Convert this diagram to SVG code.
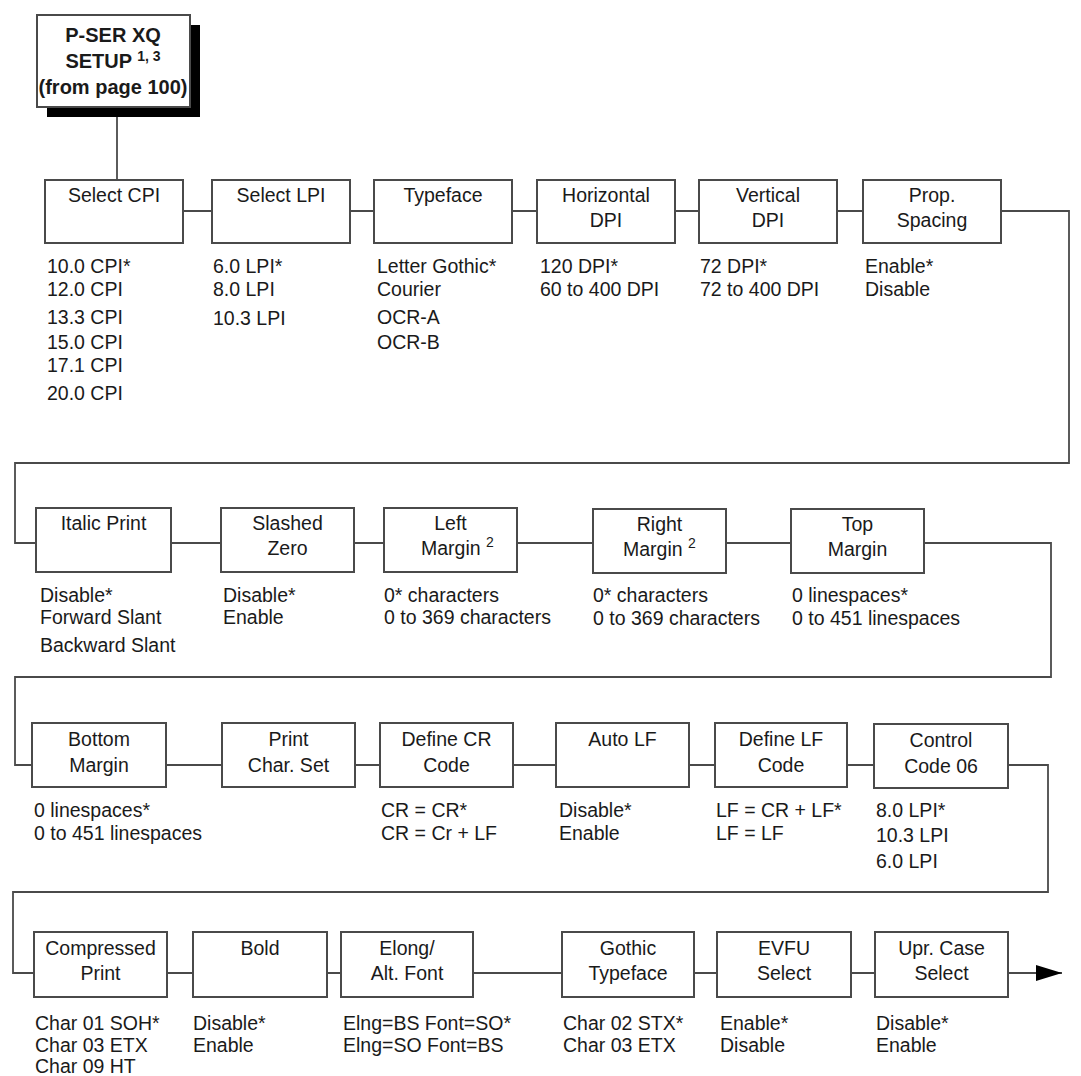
<svg xmlns="http://www.w3.org/2000/svg" width="1081" height="1076" viewBox="0 0 1081 1076">
<style>
  .box { fill: #ffffff; stroke: #4a4a4a; stroke-width: 2; }
  .shadow { fill: #000000; }
  .conn { fill: none; stroke: #4a4a4a; stroke-width: 1.8; }
  text { font-family: "Liberation Sans", Arial, sans-serif; font-size: 19.5px; fill: #1a1a1a; }
  .t { text-anchor: middle; }
  .hd { font-weight: bold; font-size: 20px; text-anchor: middle; }
  .sup { font-size: 14px; }
</style>
<defs>
  <marker id="arrow" viewBox="0 0 26 16" refX="26" refY="8" markerWidth="26" markerHeight="16" markerUnits="userSpaceOnUse" orient="auto">
    <path d="M0 0 L26 8 L0 16 Z" fill="#000000"/>
  </marker>
</defs>
<rect width="1081" height="1076" fill="#ffffff"/>

<g id="connectors">
  <path class="conn" d="M117 117 V180"/>
  <path class="conn" d="M183 211 H212 M350 211 H374 M512 211 H537 M675 211 H699 M837 211 H863"/>
  <path class="conn" d="M1001 211 H1069 V463 H15 V543 H36"/>
  <path class="conn" d="M171 543 H221 M354 543 H384 M517 543 H593 M726 543 H791"/>
  <path class="conn" d="M924 543 H1051 V677 H15 V765 H32"/>
  <path class="conn" d="M166 765 H222 M355 765 H380 M513 765 H556 M689 765 H715 M847 765 H874"/>
  <path class="conn" d="M1008 765 H1048 V892 H13 V973 H34"/>
  <path class="conn" d="M167 973 H193 M327 973 H341 M473 973 H562 M694 973 H717 M851 973 H875"/>
  <path class="conn" d="M1008 973 H1062" marker-end="url(#arrow)"/>
</g>

<g id="header">
  <rect class="shadow" x="47" y="25" width="153" height="92"/>
  <rect class="box" x="37" y="15" width="153" height="92"/>
  <text class="hd" x="113" y="42">P-SER XQ</text>
  <text class="hd" x="113" y="68">SETUP <tspan class="sup" dy="-7">1, 3</tspan></text>
  <text class="hd" x="113" y="94">(from page 100)</text>
</g>

<!-- Row 1 -->
<g id="select-cpi">
  <rect class="box" x="45" y="180" width="138" height="63"/>
  <text class="t" x="114" y="202">Select CPI</text>
  <text x="47" y="273">10.0 CPI*</text>
  <text x="47" y="296">12.0 CPI</text>
  <text x="47" y="324">13.3 CPI</text>
  <text x="47" y="349">15.0 CPI</text>
  <text x="47" y="372">17.1 CPI</text>
  <text x="47" y="400">20.0 CPI</text>
</g>
<g id="select-lpi">
  <rect class="box" x="212" y="180" width="138" height="63"/>
  <text class="t" x="281" y="202">Select LPI</text>
  <text x="213" y="273">6.0 LPI*</text>
  <text x="213" y="296">8.0 LPI</text>
  <text x="213" y="325">10.3 LPI</text>
</g>
<g id="typeface">
  <rect class="box" x="374" y="180" width="138" height="63"/>
  <text class="t" x="443" y="202">Typeface</text>
  <text x="377" y="273">Letter Gothic*</text>
  <text x="377" y="296">Courier</text>
  <text x="377" y="324">OCR-A</text>
  <text x="377" y="349">OCR-B</text>
</g>
<g id="horizontal-dpi">
  <rect class="box" x="537" y="180" width="138" height="63"/>
  <text class="t" x="606" y="202">Horizontal</text>
  <text class="t" x="606" y="227">DPI</text>
  <text x="540" y="273">120 DPI*</text>
  <text x="540" y="296">60 to 400 DPI</text>
</g>
<g id="vertical-dpi">
  <rect class="box" x="699" y="180" width="138" height="63"/>
  <text class="t" x="768" y="202">Vertical</text>
  <text class="t" x="768" y="227">DPI</text>
  <text x="700" y="273">72 DPI*</text>
  <text x="700" y="296">72 to 400 DPI</text>
</g>
<g id="prop-spacing">
  <rect class="box" x="863" y="180" width="138" height="63"/>
  <text class="t" x="932" y="202">Prop.</text>
  <text class="t" x="932" y="227">Spacing</text>
  <text x="865" y="273">Enable*</text>
  <text x="865" y="296">Disable</text>
</g>

<!-- Row 2 -->
<g id="italic-print">
  <rect class="box" x="36" y="508" width="135" height="64"/>
  <text class="t" x="103.5" y="530">Italic Print</text>
  <text x="40" y="602">Disable*</text>
  <text x="40" y="624">Forward Slant</text>
  <text x="40" y="652">Backward Slant</text>
</g>
<g id="slashed-zero">
  <rect class="box" x="221" y="508" width="133" height="64"/>
  <text class="t" x="287.5" y="530">Slashed</text>
  <text class="t" x="287.5" y="555">Zero</text>
  <text x="223" y="602">Disable*</text>
  <text x="223" y="624">Enable</text>
</g>
<g id="left-margin">
  <rect class="box" x="384" y="508" width="133" height="64"/>
  <text class="t" x="450.5" y="530">Left</text>
  <text x="421" y="555">Margin <tspan class="sup" dy="-8">2</tspan></text>
  <text x="384" y="602">0* characters</text>
  <text x="384" y="624">0 to 369 characters</text>
</g>
<g id="right-margin">
  <rect class="box" x="593" y="509" width="133" height="64"/>
  <text class="t" x="659.5" y="531">Right</text>
  <text x="623" y="556">Margin <tspan class="sup" dy="-8">2</tspan></text>
  <text x="593" y="602">0* characters</text>
  <text x="593" y="625">0 to 369 characters</text>
</g>
<g id="top-margin">
  <rect class="box" x="791" y="509" width="133" height="64"/>
  <text class="t" x="857.5" y="531">Top</text>
  <text class="t" x="857.5" y="556">Margin</text>
  <text x="792" y="602">0 linespaces*</text>
  <text x="792" y="625">0 to 451 linespaces</text>
</g>

<!-- Row 3 -->
<g id="bottom-margin">
  <rect class="box" x="32" y="723" width="134" height="64"/>
  <text class="t" x="99" y="746">Bottom</text>
  <text class="t" x="99" y="772">Margin</text>
  <text x="34" y="817">0 linespaces*</text>
  <text x="34" y="840">0 to 451 linespaces</text>
</g>
<g id="print-char-set">
  <rect class="box" x="222" y="723" width="133" height="64"/>
  <text class="t" x="288.5" y="746">Print</text>
  <text class="t" x="288.5" y="772">Char. Set</text>
</g>
<g id="define-cr-code">
  <rect class="box" x="380" y="723" width="133" height="64"/>
  <text class="t" x="446.5" y="746">Define CR</text>
  <text class="t" x="446.5" y="772">Code</text>
  <text x="381" y="817">CR = CR*</text>
  <text x="381" y="840">CR = Cr + LF</text>
</g>
<g id="auto-lf">
  <rect class="box" x="556" y="723" width="133" height="64"/>
  <text class="t" x="622.5" y="746">Auto LF</text>
  <text x="559" y="817">Disable*</text>
  <text x="559" y="840">Enable</text>
</g>
<g id="define-lf-code">
  <rect class="box" x="715" y="723" width="132" height="64"/>
  <text class="t" x="781" y="746">Define LF</text>
  <text class="t" x="781" y="772">Code</text>
  <text x="716" y="817">LF = CR + LF*</text>
  <text x="716" y="840">LF = LF</text>
</g>
<g id="control-code-06">
  <rect class="box" x="874" y="724" width="134" height="64"/>
  <text class="t" x="941" y="747">Control</text>
  <text class="t" x="941" y="773">Code 06</text>
  <text x="876" y="817">8.0 LPI*</text>
  <text x="876" y="842">10.3 LPI</text>
  <text x="876" y="868">6.0 LPI</text>
</g>

<!-- Row 4 -->
<g id="compressed-print">
  <rect class="box" x="34" y="932" width="133" height="65"/>
  <text class="t" x="100.5" y="955">Compressed</text>
  <text class="t" x="100.5" y="980">Print</text>
  <text x="35" y="1030">Char 01 SOH*</text>
  <text x="35" y="1052">Char 03 ETX</text>
  <text x="35" y="1073">Char 09 HT</text>
</g>
<g id="bold">
  <rect class="box" x="193" y="932" width="134" height="65"/>
  <text class="t" x="260" y="955">Bold</text>
  <text x="193" y="1030">Disable*</text>
  <text x="193" y="1052">Enable</text>
</g>
<g id="elong-alt-font">
  <rect class="box" x="341" y="932" width="132" height="65"/>
  <text class="t" x="407" y="955">Elong/</text>
  <text class="t" x="407" y="980">Alt. Font</text>
  <text x="343" y="1030">Elng=BS Font=SO*</text>
  <text x="343" y="1052">Elng=SO Font=BS</text>
</g>
<g id="gothic-typeface">
  <rect class="box" x="562" y="932" width="132" height="65"/>
  <text class="t" x="628" y="955">Gothic</text>
  <text class="t" x="628" y="980">Typeface</text>
  <text x="563" y="1030">Char 02 STX*</text>
  <text x="563" y="1052">Char 03 ETX</text>
</g>
<g id="evfu-select">
  <rect class="box" x="717" y="932" width="134" height="65"/>
  <text class="t" x="784" y="955">EVFU</text>
  <text class="t" x="784" y="980">Select</text>
  <text x="720" y="1030">Enable*</text>
  <text x="720" y="1052">Disable</text>
</g>
<g id="upr-case-select">
  <rect class="box" x="875" y="932" width="133" height="65"/>
  <text class="t" x="941.5" y="955">Upr. Case</text>
  <text class="t" x="941.5" y="980">Select</text>
  <text x="876" y="1030">Disable*</text>
  <text x="876" y="1052">Enable</text>
</g>
</svg>
